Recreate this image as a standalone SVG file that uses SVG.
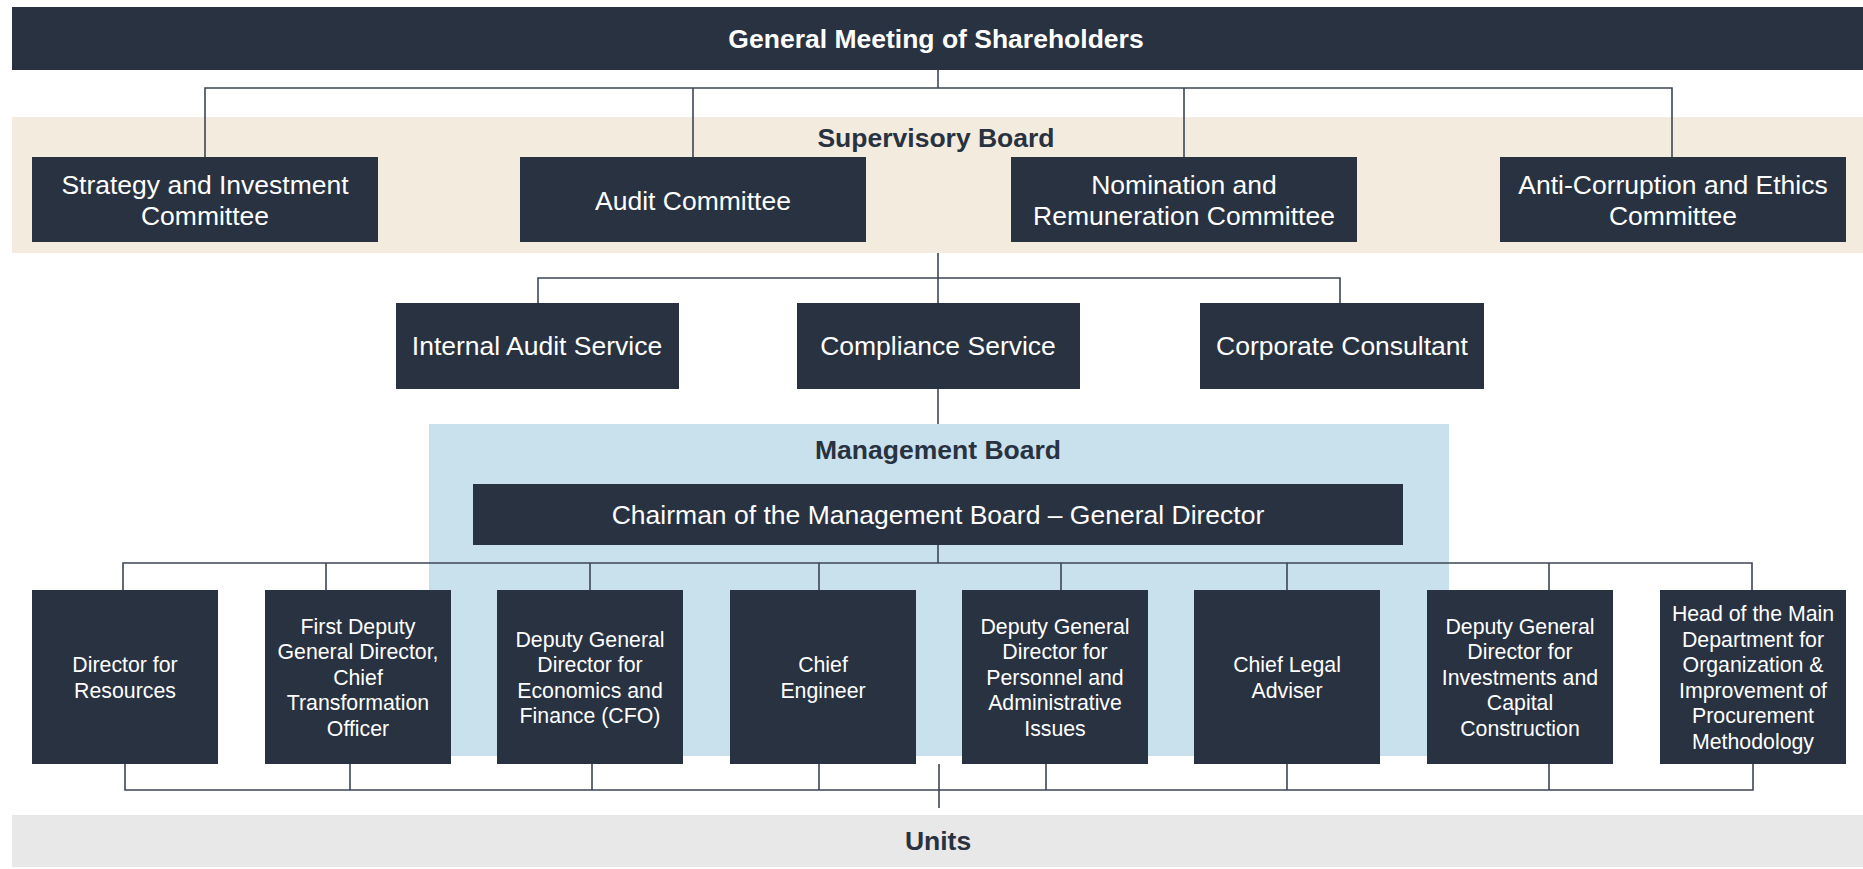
<svg xmlns="http://www.w3.org/2000/svg" width="1863" height="869" viewBox="0 0 1863 869">
<style>
  .box { fill: #283241; }
  .t { font-family: "Liberation Sans", Arial, sans-serif; font-size: 26.5px; fill: #ffffff; text-anchor: middle; }
  .s { font-family: "Liberation Sans", Arial, sans-serif; font-size: 21.3px; fill: #ffffff; text-anchor: middle; }
  .hb { font-family: "Liberation Sans", Arial, sans-serif; font-size: 26.5px; font-weight: bold; fill: #ffffff; text-anchor: middle; }
  .hd { font-family: "Liberation Sans", Arial, sans-serif; font-size: 26.5px; font-weight: bold; fill: #283241; text-anchor: middle; }
  .c { fill: none; stroke: #3d4654; stroke-width: 1.6; }
</style>
<rect width="1863" height="869" fill="#ffffff"/>

<!-- background bands -->
<g id="supervisory-board">
  <rect x="12" y="117" width="1851" height="136" fill="#f4ebdf"/>
  <text class="hd" x="936" y="147">Supervisory Board</text>
</g>
<g id="management-board">
  <rect x="429" y="424" width="1020" height="332" fill="#c9e0ed"/>
  <text class="hd" x="938" y="459">Management Board</text>
</g>
<g id="units">
  <rect x="12" y="815" width="1851" height="52" fill="#e8e8e8"/>
  <text class="hd" x="938" y="850">Units</text>
</g>

<!-- connectors -->
<g id="connectors">
  <path class="c" d="M938,70 V88 M205,157 V88 H1672 V157 M693,88 V157 M1184,88 V157"/>
  <path class="c" d="M938,253 V303 M538,303 V278 H1340 V303"/>
  <path class="c" d="M938,389 V424"/>
  <path class="c" d="M938,545 V563 M123,590 V563 H1752 V590 M326,563 V590 M590,563 V590 M819,563 V590 M1061,563 V590 M1287,563 V590 M1549,563 V590"/>
  <path class="c" d="M125,764 V790 H1753 V764 M350,764 V790 M592,764 V790 M819,764 V790 M1046,764 V790 M1287,764 V790 M1549,764 V790 M939,764 V808"/>
</g>

<g id="general-meeting">
  <rect class="box" x="12" y="7" width="1851" height="63"/>
  <text class="hb" x="936" y="48">General Meeting of Shareholders</text>
</g>

<g id="strategy-committee">
  <rect class="box" x="32" y="157" width="346" height="85"/>
  <text class="t" x="205" y="194">Strategy and Investment</text>
  <text class="t" x="205" y="225">Committee</text>
</g>
<g id="audit-committee">
  <rect class="box" x="520" y="157" width="346" height="85"/>
  <text class="t" x="693" y="210">Audit Committee</text>
</g>
<g id="nomination-committee">
  <rect class="box" x="1011" y="157" width="346" height="85"/>
  <text class="t" x="1184" y="194">Nomination and</text>
  <text class="t" x="1184" y="225">Remuneration Committee</text>
</g>
<g id="anticorruption-committee">
  <rect class="box" x="1500" y="157" width="346" height="85"/>
  <text class="t" x="1673" y="194">Anti-Corruption and Ethics</text>
  <text class="t" x="1673" y="225">Committee</text>
</g>

<g id="internal-audit">
  <rect class="box" x="396" y="303" width="283" height="86"/>
  <text class="t" x="537" y="355">Internal Audit Service</text>
</g>
<g id="compliance">
  <rect class="box" x="797" y="303" width="283" height="86"/>
  <text class="t" x="938" y="355">Compliance Service</text>
</g>
<g id="corporate-consultant">
  <rect class="box" x="1200" y="303" width="284" height="86"/>
  <text class="t" x="1342" y="355">Corporate Consultant</text>
</g>

<g id="chairman">
  <rect class="box" x="473" y="484" width="930" height="61"/>
  <text class="t" x="938" y="524">Chairman of the Management Board – General Director</text>
</g>

<g id="director-resources">
  <rect class="box" x="32" y="590" width="186" height="174"/>
  <text class="s" x="125" y="672">Director for</text>
  <text class="s" x="125" y="697.5">Resources</text>
</g>
<g id="first-deputy">
  <rect class="box" x="265" y="590" width="186" height="174"/>
  <text class="s" x="358" y="633.5">First Deputy</text>
  <text class="s" x="358" y="659">General Director,</text>
  <text class="s" x="358" y="684.5">Chief</text>
  <text class="s" x="358" y="710">Transformation</text>
  <text class="s" x="358" y="735.5">Officer</text>
</g>
<g id="deputy-cfo">
  <rect class="box" x="497" y="590" width="186" height="174"/>
  <text class="s" x="590" y="646.5">Deputy General</text>
  <text class="s" x="590" y="672">Director for</text>
  <text class="s" x="590" y="697.5">Economics and</text>
  <text class="s" x="590" y="723">Finance (CFO)</text>
</g>
<g id="chief-engineer">
  <rect class="box" x="730" y="590" width="186" height="174"/>
  <text class="s" x="823" y="672">Chief</text>
  <text class="s" x="823" y="697.5">Engineer</text>
</g>
<g id="deputy-personnel">
  <rect class="box" x="962" y="590" width="186" height="174"/>
  <text class="s" x="1055" y="633.5">Deputy General</text>
  <text class="s" x="1055" y="659">Director for</text>
  <text class="s" x="1055" y="684.5">Personnel and</text>
  <text class="s" x="1055" y="710">Administrative</text>
  <text class="s" x="1055" y="735.5">Issues</text>
</g>
<g id="chief-legal">
  <rect class="box" x="1194" y="590" width="186" height="174"/>
  <text class="s" x="1287" y="672">Chief Legal</text>
  <text class="s" x="1287" y="697.5">Adviser</text>
</g>
<g id="deputy-investments">
  <rect class="box" x="1427" y="590" width="186" height="174"/>
  <text class="s" x="1520" y="633.5">Deputy General</text>
  <text class="s" x="1520" y="659">Director for</text>
  <text class="s" x="1520" y="684.5">Investments and</text>
  <text class="s" x="1520" y="710">Capital</text>
  <text class="s" x="1520" y="735.5">Construction</text>
</g>
<g id="head-procurement">
  <rect class="box" x="1660" y="590" width="186" height="174"/>
  <text class="s" x="1753" y="621">Head of the Main</text>
  <text class="s" x="1753" y="646.5">Department for</text>
  <text class="s" x="1753" y="672">Organization &amp;</text>
  <text class="s" x="1753" y="697.5">Improvement of</text>
  <text class="s" x="1753" y="723">Procurement</text>
  <text class="s" x="1753" y="748.5">Methodology</text>
</g>
</svg>
